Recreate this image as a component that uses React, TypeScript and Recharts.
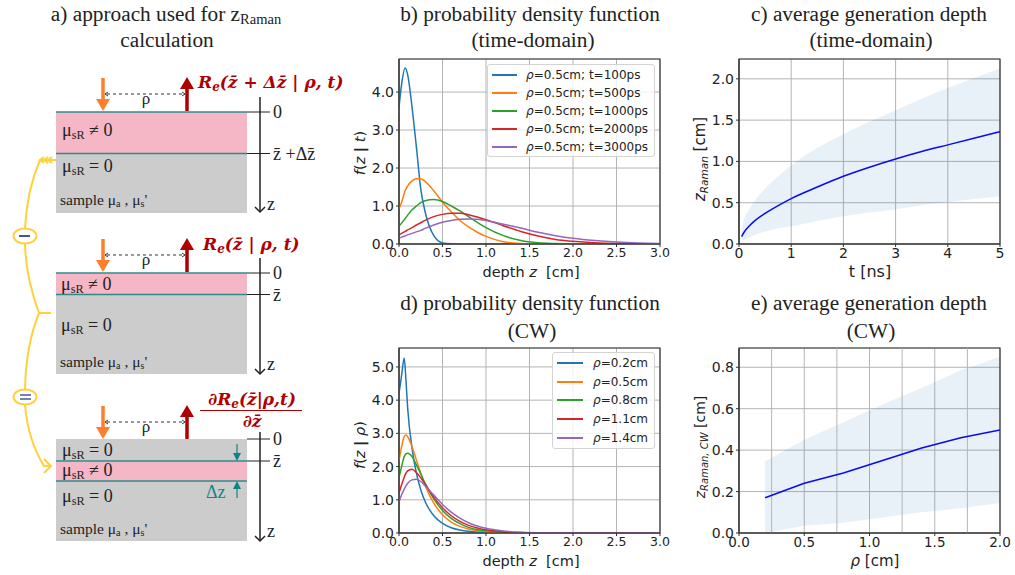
import React from "react";
import {
  Area,
  CartesianGrid,
  ComposedChart,
  Legend,
  Line,
  ReferenceArea,
  ReferenceLine,
  XAxis,
  YAxis,
} from "recharts";

// panel b) pdf, time-domain
const depthB = [0, 0.03, 0.07, 0.1, 0.15, 0.2, 0.25, 0.3, 0.4, 0.5, 0.6, 0.7, 0.8, 0.9, 1, 1.2, 1.4, 1.6, 1.8, 2, 2.25, 2.5, 2.75, 3];
const t100 = [3.6, 4.2, 4.63, 4.45, 3.6, 2.55, 1.45, 0.85, 0.22, 0.03, 0.005, 0, 0, 0, 0, 0, 0, 0, 0, 0, 0, 0, 0, 0];
const t500 = [0.93, 1.1, 1.4, 1.53, 1.66, 1.72, 1.72, 1.65, 1.4, 1.1, 0.85, 0.62, 0.45, 0.31, 0.2, 0.06, 0.015, 0.003, 0, 0, 0, 0, 0, 0];
const t1000 = [0.47, 0.55, 0.67, 0.76, 0.9, 1.0, 1.09, 1.14, 1.17, 1.12, 1.0, 0.87, 0.72, 0.57, 0.43, 0.22, 0.09, 0.03, 0.01, 0.002, 0, 0, 0, 0];
const t2000 = [0.24, 0.28, 0.33, 0.37, 0.43, 0.5, 0.56, 0.62, 0.72, 0.78, 0.81, 0.81, 0.77, 0.71, 0.64, 0.48, 0.33, 0.21, 0.12, 0.07, 0.03, 0.01, 0.003, 0.001];
const t3000 = [0.15, 0.18, 0.21, 0.24, 0.28, 0.32, 0.36, 0.41, 0.5, 0.57, 0.62, 0.65, 0.66, 0.65, 0.62, 0.52, 0.42, 0.31, 0.22, 0.15, 0.09, 0.05, 0.025, 0.012];
const namesB = ["ρ=0.5cm; t=100ps", "ρ=0.5cm; t=500ps", "ρ=0.5cm; t=1000ps", "ρ=0.5cm; t=2000ps", "ρ=0.5cm; t=3000ps"];

// panel d) pdf, CW
const depthD = [0, 0.03, 0.06, 0.08, 0.1, 0.15, 0.2, 0.25, 0.3, 0.4, 0.5, 0.6, 0.7, 0.8, 0.9, 1, 1.2, 1.4, 1.6, 2, 2.5, 3];
const rho02 = [4.2, 4.75, 5.27, 4.6, 3.75, 2.55, 1.8, 1.3, 0.95, 0.52, 0.29, 0.16, 0.09, 0.05, 0.03, 0.015, 0.005, 0.001, 0, 0, 0, 0];
const rho05 = [2.17, 2.6, 2.9, 2.95, 2.9, 2.6, 2.2, 1.8, 1.43, 0.9, 0.55, 0.33, 0.2, 0.12, 0.07, 0.04, 0.012, 0.003, 0, 0, 0, 0];
const rho08 = [1.67, 2.0, 2.3, 2.38, 2.4, 2.3, 2.05, 1.78, 1.5, 1.03, 0.68, 0.44, 0.28, 0.17, 0.1, 0.065, 0.02, 0.006, 0.002, 0, 0, 0];
const rho11 = [1.2, 1.45, 1.68, 1.8, 1.87, 1.92, 1.82, 1.66, 1.47, 1.08, 0.76, 0.52, 0.35, 0.23, 0.15, 0.095, 0.035, 0.012, 0.004, 0, 0, 0];
const rho14 = [0.93, 1.15, 1.32, 1.42, 1.5, 1.6, 1.62, 1.55, 1.42, 1.14, 0.86, 0.63, 0.45, 0.31, 0.21, 0.14, 0.06, 0.02, 0.007, 0.001, 0, 0];
const namesD = ["ρ=0.2cm", "ρ=0.5cm", "ρ=0.8cm", "ρ=1.1cm", "ρ=1.4cm"];

// panel c) average depth, time-domain
const timeNs = [0.05, 0.1, 0.2, 0.3, 0.5, 0.75, 1, 1.5, 2, 2.5, 3, 3.5, 4, 4.5, 5];
const depthMeanC = [0.09, 0.145, 0.22, 0.28, 0.37, 0.465, 0.55, 0.69, 0.82, 0.93, 1.03, 1.12, 1.2, 1.28, 1.36];
const depthHighC = [0.19, 0.3, 0.425, 0.52, 0.67, 0.82, 0.95, 1.165, 1.33, 1.48, 1.62, 1.76, 1.89, 2.01, 2.125];
const depthLowC = [0.03, 0.05, 0.08, 0.11, 0.15, 0.19, 0.215, 0.28, 0.335, 0.38, 0.42, 0.47, 0.51, 0.545, 0.575];

// panel e) average depth, CW
const rhoCm = [0.2, 0.5, 0.8, 1.1, 1.4, 1.7, 2.0];
const depthMeanE = [0.17, 0.24, 0.29, 0.35, 0.41, 0.46, 0.497];
const depthHighE = [0.346, 0.45, 0.535, 0.62, 0.7, 0.785, 0.85];
const depthLowE = [0, 0.035, 0.05, 0.075, 0.1, 0.12, 0.145];

const colors = ["#1f77b4", "#ff7f0e", "#2ca02c", "#d62728", "#9467bd"];
const ticksDepth = [0, 0.5, 1, 1.5, 2, 2.5, 3];
const ticksB = [0, 1, 2, 3, 4];
const ticksD = [0, 1, 2, 3, 4, 5];
const ticksTime = [0, 1, 2, 3, 4, 5];
const ticksC = [0, 0.5, 1, 1.5, 2];
const ticksRho = [0, 0.5, 1, 1.5, 2];
const minorRho = [0.25, 0.75, 1.25, 1.75];
const ticksE = [0, 0.2, 0.4, 0.6, 0.8];

const pdfB = depthB.map((z, i) => ({ z, s0: t100[i], s1: t500[i], s2: t1000[i], s3: t2000[i], s4: t3000[i] }));
const pdfD = depthD.map((z, i) => ({ z, s0: rho02[i], s1: rho05[i], s2: rho08[i], s3: rho11[i], s4: rho14[i] }));
const tableC = timeNs.map((x, i) => ({ x, mean: depthMeanC[i], band: [depthLowC[i], depthHighC[i]] }));
const tableE = rhoCm.map((x, i) => ({ x, mean: depthMeanE[i], band: [depthLowE[i], depthHighE[i]] }));

const SANS = "'DejaVu Sans', sans-serif";
const SERIF = "'Liberation Serif', serif";
const FORMULA = "'DejaVu Serif', serif";
const GRID = "#b4b4b4";
const SPINE = "#333";
const RED = "#ae0000";

const legendBox = (rowH: number, swatch: number, gap: number) =>
  ({ payload }: any) => (
    <div
      style={{
        width: "100%",
        height: "100%",
        boxSizing: "border-box",
        background: "rgba(255,255,255,0.8)",
        border: "1px solid #d4d4d4",
        borderRadius: 3,
        paddingTop: 1,
      }}
    >
      {(payload || []).map((p: any) => (
        <div key={p.value} style={{ display: "flex", alignItems: "center", height: rowH, paddingLeft: 4, font: `12px ${SANS}`, color: "#222", whiteSpace: "nowrap" }}>
          <span style={{ width: swatch, height: 2, background: p.color, marginRight: gap }} />
          <i>ρ</i>
          {String(p.value).slice(1)}
        </div>
      ))}
    </div>
  );

const Panel = ({ left, top, data, xKey, xTicks, xMax, yTicks, yMax, yDigits, xSize, children, minor }: any) => (
  <div style={{ position: "absolute", left, top }}>
    <ComposedChart
      width={330}
      height={240}
      data={data}
      margin={{ top: 19, right: 20, bottom: 6, left: 0 }}
    >
      <CartesianGrid stroke={GRID} strokeWidth={1} />
      {(minor || []).map((v: number) => (
        <ReferenceLine key={v} x={v} stroke={GRID} strokeWidth={1} />
      ))}
      <XAxis
        type="number"
        dataKey={xKey}
        domain={[0, xMax]}
        ticks={xTicks}
        allowDataOverflow
        height={30}
        interval={0}
        tickSize={3}
        tickMargin={1}
        tickFormatter={(v: number) => (xMax === 5 ? String(v) : v.toFixed(1))}
        tick={{ fontSize: xSize, fontFamily: SANS, fill: "#222" }}
        stroke={SPINE}
      />
      <YAxis
        type="number"
        domain={[0, yMax]}
        ticks={yTicks}
        allowDataOverflow
        width={49}
        interval={0}
        tickSize={3}
        tickMargin={2}
        tickFormatter={(v: number) => v.toFixed(yDigits)}
        tick={{ fontSize: 14, fontFamily: SANS, fill: "#222" }}
        stroke={SPINE}
      />
      {children}
      <ReferenceArea x1={0} x2={xMax} y1={0} y2={yMax} fill="none" stroke={SPINE} strokeWidth={1.2} strokeOpacity={1} />
    </ComposedChart>
  </div>
);

const pdfLines = (names: string[]) =>
  names.map((name, i) => (
    <Line key={name} type="monotone" dataKey={`s${i}`} name={name} stroke={colors[i]} strokeWidth={1.5} dot={false} activeDot={false} isAnimationActive={false} />
  ));

const bandAndMean = (curve: "monotone" | "linear") => [
  <Area key="band" type={curve} dataKey="band" stroke="none" fill="#1f77b4" fillOpacity={0.1} dot={false} activeDot={false} isAnimationActive={false} legendType="none" />,
  <Line key="mean" type={curve} dataKey="mean" stroke="#0a0aee" strokeWidth={1.5} dot={false} activeDot={false} isAnimationActive={false} />,
];

const Sub = ({ x, y, size = 18, a, sub, rest }: any) => (
  <text x={x} y={y} fontFamily={SERIF} fontSize={size} fill="#222">
    {a}
    <tspan dy={3} fontSize={size * 0.68}>{sub}</tspan>
    <tspan dy={-3}>{rest}</tspan>
  </text>
);

const Sample = ({ x, y }: any) => (
  <text x={x} y={y} fontFamily={SERIF} fontSize={15.5} fill="#222">
    sample μ
    <tspan dy={2} fontSize={10}>a</tspan>
    <tspan dy={-2}> , μ</tspan>
    <tspan dy={2} fontSize={10}>s</tspan>
    <tspan dy={-2}>'</tspan>
  </text>
);

const Probe = ({ y }: any) => (
  <g>
    <line x1={103} y1={y - 33} x2={103} y2={y - 10} stroke="#fd7f2b" strokeWidth={3.5} />
    <polygon points={`${96},${y - 12} ${110},${y - 12} ${103},${y}`} fill="#fd7f2b" />
    <line x1={187} y1={y - 24} x2={187} y2={y} stroke={RED} strokeWidth={3.5} />
    <polygon points={`${180},${y - 22} ${194},${y - 22} ${187},${y - 34}`} fill={RED} />
    <line x1={107} y1={y - 17} x2={183} y2={y - 17} stroke="#333" strokeWidth={1} strokeDasharray="3 3" />
    <polyline points={`${108},${y - 19} ${105},${y - 17} ${108},${y - 15}`} fill="none" stroke="#333" strokeWidth={1} />
    <polyline points={`${182},${y - 19} ${185},${y - 17} ${182},${y - 15}`} fill="none" stroke="#333" strokeWidth={1} />
    <text x={146} y={y - 7} textAnchor="middle" fontFamily={SERIF} fontSize={17} fill="#222">ρ</text>
  </g>
);

const DepthAxis = ({ top, bottom, zeroY, barY, barLabel, zY }: any) => (
  <g fontFamily={SERIF} fontSize={18} fill="#222">
    <line x1={260} y1={top} x2={260} y2={bottom} stroke="#222" strokeWidth={1.5} />
    <polyline points={`${255},${bottom - 5} ${260},${bottom} ${265},${bottom - 5}`} fill="none" stroke="#222" strokeWidth={1.5} />
    <line x1={247} y1={zeroY} x2={270} y2={zeroY} stroke="#222" strokeWidth={1} />
    <line x1={247} y1={barY} x2={270} y2={barY} stroke="#222" strokeWidth={1} />
    <text x={273} y={zeroY + 6}>0</text>
    <text x={273} y={barY + 6}>{barLabel}</text>
    <text x={267} y={zY}>z</text>
  </g>
);

const Title = ({ x, y, children }: any) => (
  <text x={x} y={y} textAnchor="middle" fontFamily={SERIF} fontSize={21.3} fill="#222">{children}</text>
);

const Overlay = () => (
  <svg width={1015} height={575} style={{ position: "absolute", left: 0, top: 0 }}>
    {/* titles */}
    <text x={166} y={21} textAnchor="middle" fontFamily={SERIF} fontSize={21.3} fill="#222">
      a) approach used for z<tspan dy={3} fontSize={14.5}>Raman</tspan>
    </text>
    <Title x={167} y={47}>calculation</Title>
    <Title x={530} y={21}>b) probability density function</Title>
    <Title x={533} y={47}>(time-domain)</Title>
    <Title x={869} y={21}>c) average generation depth</Title>
    <Title x={871} y={47}>(time-domain)</Title>
    <Title x={530} y={310}>d) probability density function</Title>
    <Title x={532} y={338}>(CW)</Title>
    <Title x={869} y={310}>e) average generation depth</Title>
    <Title x={871} y={338}>(CW)</Title>

    {/* axis titles */}
    <text x={531} y={277} textAnchor="middle" fontFamily={SANS} fontSize={14.5} fill="#222" xmlSpace="preserve">
      depth <tspan fontStyle="italic">z</tspan>  [cm]
    </text>
    <text x={531} y={566} textAnchor="middle" fontFamily={SANS} fontSize={14.5} fill="#222" xmlSpace="preserve">
      depth <tspan fontStyle="italic">z</tspan>  [cm]
    </text>
    <text x={870} y={277} textAnchor="middle" fontFamily={SANS} fontSize={16} fill="#222">t [ns]</text>
    <text x={875} y={566} textAnchor="middle" fontFamily={SANS} fontSize={15} fill="#222">
      <tspan fontStyle="italic">ρ</tspan> [cm]
    </text>
    <text transform="translate(365,153) rotate(-90)" textAnchor="middle" fontFamily={SANS} fontSize={14.5} fill="#222">
      <tspan fontStyle="italic">f</tspan>(<tspan fontStyle="italic">z</tspan> <tspan fontWeight="bold">|</tspan> <tspan fontStyle="italic">t</tspan>)
    </text>
    <text transform="translate(365,445) rotate(-90)" textAnchor="middle" fontFamily={SANS} fontSize={14.5} fill="#222">
      <tspan fontStyle="italic">f</tspan>(<tspan fontStyle="italic">z</tspan> <tspan fontWeight="bold">|</tspan> <tspan fontStyle="italic">ρ</tspan>)
    </text>
    <text transform="translate(705,159) rotate(-90)" textAnchor="middle" fontFamily={SANS} fontSize={15} fill="#222">
      <tspan fontStyle="italic">z</tspan>
      <tspan dy={3} fontSize={10.5} fontStyle="italic">Raman</tspan>
      <tspan dy={-3}> [cm]</tspan>
    </text>
    <text transform="translate(705,447) rotate(-90)" textAnchor="middle" fontFamily={SANS} fontSize={14} fill="#222">
      <tspan fontStyle="italic">z</tspan>
      <tspan dy={3} fontSize={10} fontStyle="italic">Raman, CW</tspan>
      <tspan dy={-3}> [cm]</tspan>
    </text>

    {/* sample 1 */}
    <rect x={56} y={112} width={191} height={41} fill="#f5b6c6" />
    <rect x={56} y={153} width={191} height={60} fill="#cccccc" />
    <line x1={56} y1={112} x2={247} y2={112} stroke="#2c8c8c" strokeWidth={1.5} />
    <line x1={56} y1={153.5} x2={247} y2={153.5} stroke="#2c8c8c" strokeWidth={1.5} />
    <Probe y={111} />
    <DepthAxis top={97} bottom={212} zeroY={112} barY={153.5} barLabel={"z\u0304 +Δz\u0304"} zY={210} />
    <Sub x={62} y={136} a="μ" sub="sR" rest=" ≠ 0" />
    <Sub x={62} y={172} a="μ" sub="sR" rest=" = 0" />
    <Sample x={60} y={205} />
    <text x={198} y={88} fontFamily={FORMULA} fontWeight="bold" fontStyle="italic" fontSize={17} fill={RED}>
      R<tspan dy={3} fontSize={12}>e</tspan><tspan dy={-3}>(z{"\u0304"} + Δz{"\u0304"} | ρ, t)</tspan>
    </text>

    {/* sample 2 */}
    <rect x={56} y={273} width={191} height={21} fill="#f5b6c6" />
    <rect x={56} y={294} width={191} height={80} fill="#cccccc" />
    <line x1={56} y1={273} x2={247} y2={273} stroke="#2c8c8c" strokeWidth={1.5} />
    <line x1={56} y1={294.5} x2={247} y2={294.5} stroke="#2c8c8c" strokeWidth={1.5} />
    <Probe y={272} />
    <DepthAxis top={258} bottom={374} zeroY={273} barY={294.5} barLabel={"z\u0304"} zY={370} />
    <Sub x={61} y={290} a="μ" sub="sR" rest=" ≠ 0" />
    <Sub x={61} y={331} a="μ" sub="sR" rest=" = 0" />
    <Sample x={60} y={367} />
    <text x={203} y={250} fontFamily={FORMULA} fontWeight="bold" fontStyle="italic" fontSize={17} fill={RED}>
      R<tspan dy={3} fontSize={12}>e</tspan><tspan dy={-3}>(z{"\u0304"} | ρ, t)</tspan>
    </text>

    {/* sample 3 */}
    <rect x={56} y={439} width={191} height={102} fill="#cccccc" />
    <rect x={56} y={461} width={191} height={20} fill="#f5b6c6" />
    <line x1={56} y1={461} x2={247} y2={461} stroke="#2c8c8c" strokeWidth={1.5} />
    <line x1={56} y1={481} x2={247} y2={481} stroke="#2c8c8c" strokeWidth={1.5} />
    <Probe y={439} />
    <DepthAxis top={432} bottom={541} zeroY={439} barY={461} barLabel={"z\u0304"} zY={537} />
    <Sub x={62} y={456} a="μ" sub="sR" rest=" = 0" />
    <Sub x={62} y={476} a="μ" sub="sR" rest=" ≠ 0" />
    <Sub x={62} y={502} a="μ" sub="sR" rest=" = 0" />
    <Sample x={60} y={534} />
    <line x1={237} y1={444} x2={237} y2={454} stroke="#0f8583" strokeWidth={1.2} />
    <polygon points="233,453 241,453 237,461" fill="#0f8583" />
    <line x1={237} y1={498} x2={237} y2={488} stroke="#0f8583" strokeWidth={1.2} />
    <polygon points="233,489 241,489 237,481" fill="#0f8583" />
    <text x={206} y={498} fontFamily={SERIF} fontSize={18} fill="#0f8583">Δz</text>
    <text x={252} y={405} textAnchor="middle" fontFamily={FORMULA} fontWeight="bold" fontStyle="italic" fontSize={17} fill={RED}>
      ∂R<tspan dy={3} fontSize={12}>e</tspan><tspan dy={-3}>(z{"\u0304"}|ρ,t)</tspan>
    </text>
    <line x1={200} y1={410.5} x2={302} y2={410.5} stroke={RED} strokeWidth={1.2} />
    <text x={252} y={427} textAnchor="middle" fontFamily={FORMULA} fontWeight="bold" fontStyle="italic" fontSize={17} fill={RED}>∂z{"\u0304"}</text>

    {/* yellow connectors */}
    <g fill="none" stroke="#fdd23c" strokeWidth={2}>
      <path d="M40 160 Q27 190 25 228" />
      <path d="M40 160 H56 M44 157 L40 160 L44 163 M48 157 L44 160 L48 163 M52 157 L48 160 L52 163" />
      <path d="M25 244 Q26 278 39 313 H51" />
      <path d="M39 313 Q26 345 25 389" />
      <path d="M25 405 Q28 440 44 466 H50 M44 459 L51 466 L44 473" />
      <ellipse cx={25} cy={236} rx={11.5} ry={7.5} fill="#fff" />
      <ellipse cx={25} cy={397} rx={11.5} ry={7.5} fill="#fff" />
    </g>
    <line x1={19} y1={236} x2={30} y2={236} stroke="#1c2a8c" strokeWidth={1.6} />
    <line x1={20} y1={395} x2={31} y2={395} stroke="#1c2a8c" strokeWidth={1.2} />
    <line x1={20} y1={399} x2={31} y2={399} stroke="#1c2a8c" strokeWidth={1.2} />
  </svg>
);

export default function App() {
  return (
    <div style={{ position: "absolute", left: 0, top: 0, width: 1015, height: 575, background: "#fff", overflow: "hidden" }}>
      <Overlay />
      <Panel left={350} top={40} data={pdfB} xKey="z" xTicks={ticksDepth} xMax={3} yTicks={ticksB} yMax={4.87} yDigits={1} xSize={12.5}>
        {pdfLines(namesB)}
        <Legend itemSorter={null} layout="horizontal" verticalAlign="middle" wrapperStyle={{ left: 137, top: 24, width: 168, height: 93 }} content={legendBox(18, 25, 9)} />
      </Panel>
      <Panel left={350} top={329} data={pdfD} xKey="z" xTicks={ticksDepth} xMax={3} yTicks={ticksD} yMax={5.57} yDigits={1} xSize={12.5}>
        {pdfLines(namesD)}
        <Legend itemSorter={null} layout="horizontal" verticalAlign="middle" wrapperStyle={{ left: 202, top: 23, width: 103, height: 97 }} content={legendBox(18.6, 26, 10)} />
      </Panel>
      <Panel left={690} top={40} data={tableC} xKey="x" xTicks={ticksTime} xMax={5} yTicks={ticksC} yMax={2.24} yDigits={1} xSize={14}>
        {bandAndMean("monotone")}
      </Panel>
      <Panel left={690} top={329} data={tableE} xKey="x" xTicks={ticksRho} xMax={2} yTicks={ticksE} yMax={0.893} yDigits={1} xSize={13.5} minor={minorRho}>
        {bandAndMean("linear")}
      </Panel>
    </div>
  );
}
